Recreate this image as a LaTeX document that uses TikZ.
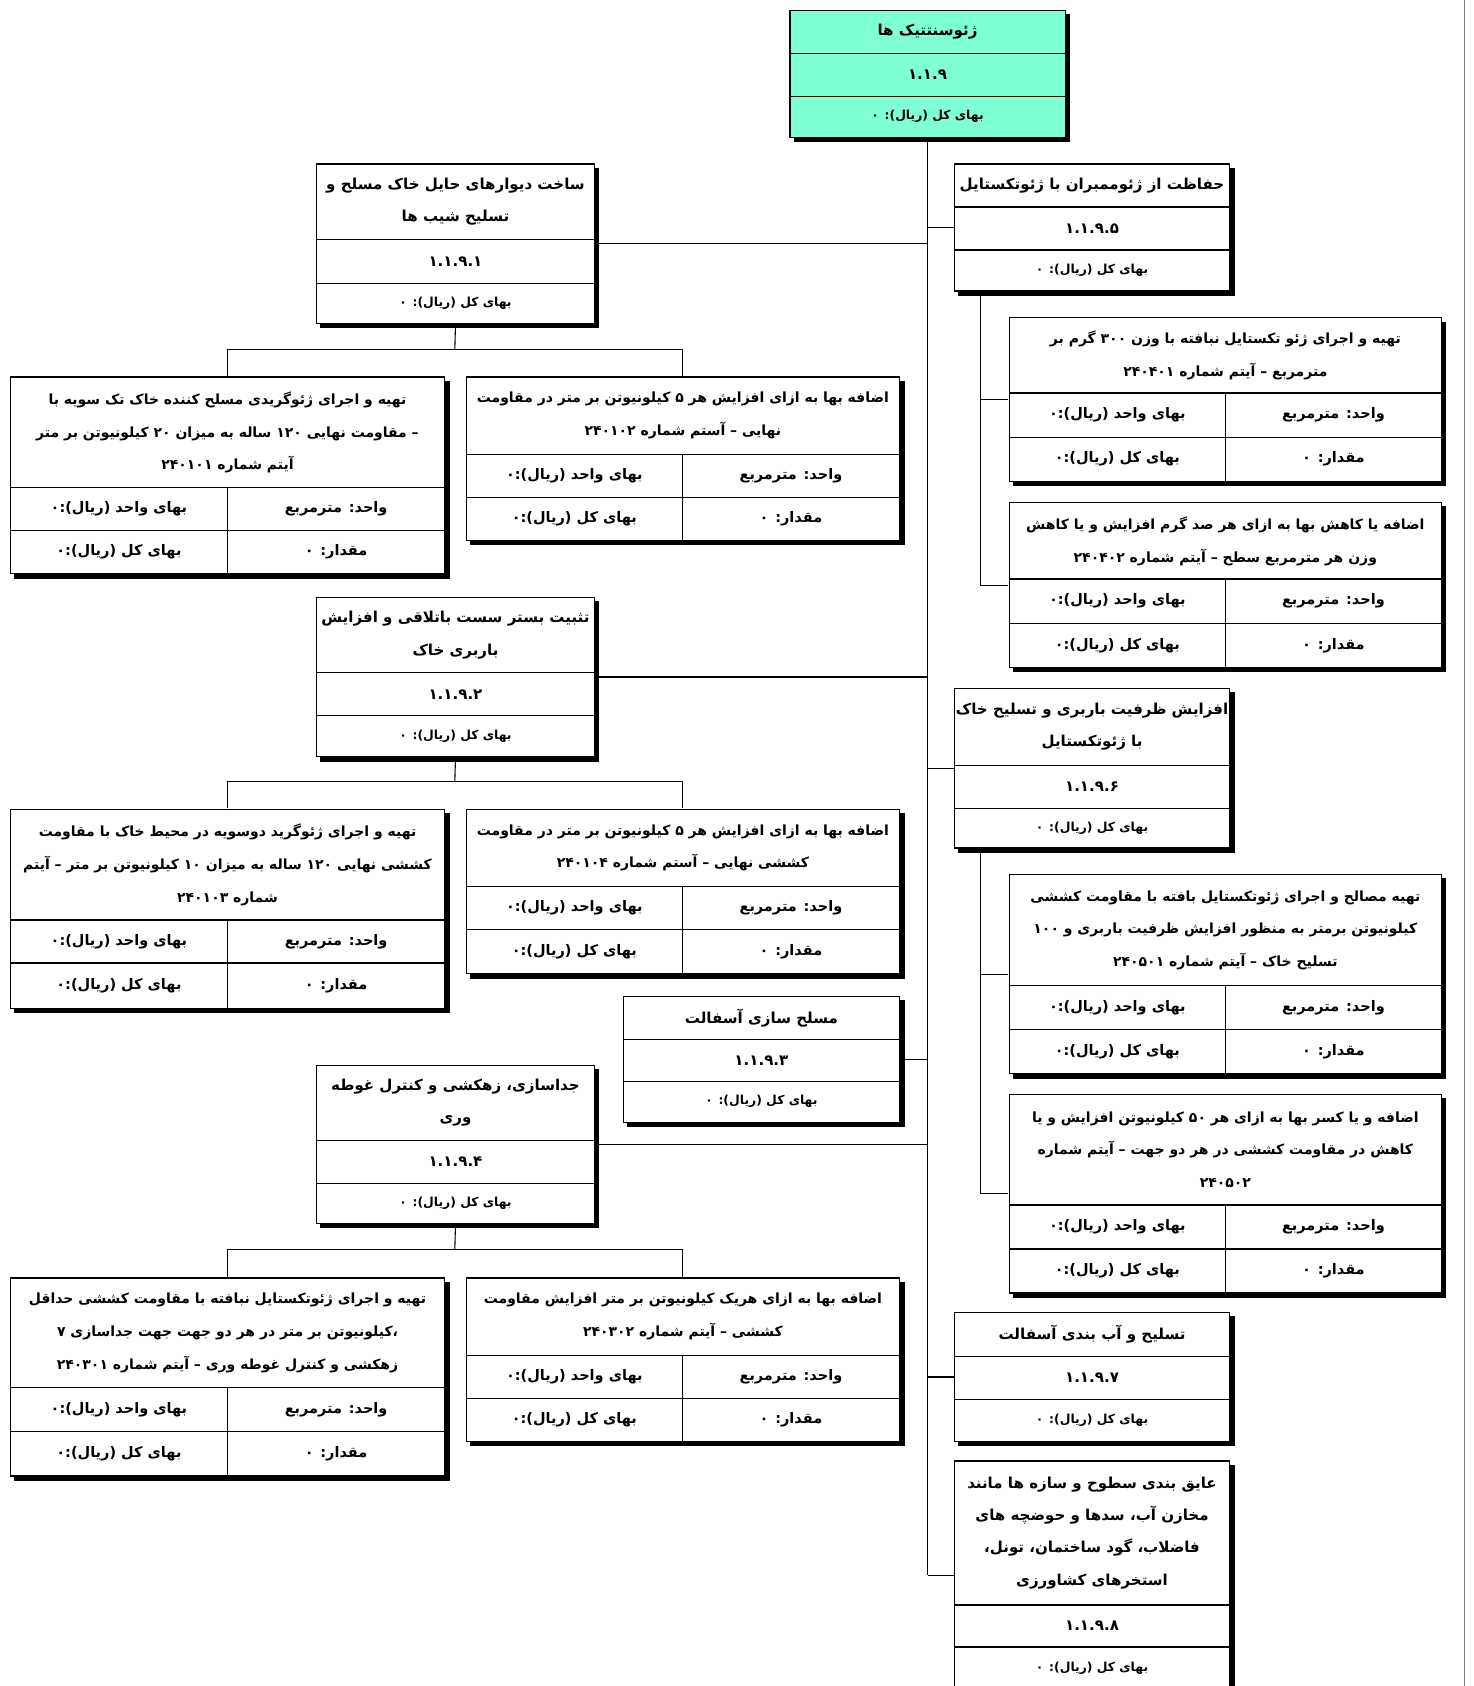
\documentclass[tikz,border=0pt]{standalone}
\usepackage{fontspec}
\usetikzlibrary{fit,backgrounds,shadows}
\newfontfamily\farsi[Script=Arabic]{DejaVu Sans}
\TeXXeTstate=1
\newcommand{\fa}[1]{\beginR #1\endR}
\definecolor{rootfill}{HTML}{7FFFD4}

\begin{document}
\begin{tikzpicture}[x=1pt, y=-1pt, line width=1.2pt,
    cell/.style={draw, fill=white, anchor=north west, inner sep=0pt, align=center,
      font=\farsi\bfseries\fontsize{14}{30}\selectfont},
    itemtitle/.style={cell, font=\farsi\bfseries\fontsize{13}{30.5}\selectfont},
    itemcell/.style={cell, font=\farsi\bfseries\fontsize{13.5}{16}\selectfont},
    smallcell/.style={cell, font=\farsi\bfseries\fontsize{11.5}{14}\selectfont},
    boxshadow/.style={inner sep=0pt, drop shadow={shadow xshift=4pt, shadow yshift=-4pt, opacity=1, fill=black}},
    link/.style={line width=1pt}]
	\useasboundingbox (0,0) rectangle (1370,1568);

	% خط کنار صفحه
	\draw[gray, line width=1.5pt] (1362,0) -- (1362,1568);

	% ریشه
	\node[cell, fill=rootfill, minimum width=256pt, minimum height=40pt] (g0t) at (734,9) {\fa{ژئوسنتتیک ها}};
	\node[cell, fill=rootfill, minimum width=256pt, minimum height=40pt] (g0c) at (734,49) {۱.۱.۹};
	\node[smallcell, fill=rootfill, minimum width=256pt, minimum height=38pt] (g0k) at (734,89) {\fa{بهای کل (ریال): ۰}};
	\begin{scope}[on background layer]
		\node[boxshadow, fit=(g0t)(g0k)] (g0) {};
	\end{scope}

	% ۱.۱.۹.۱
	\node[cell, minimum width=258pt, minimum height=70pt] (g1t) at (294,152) {\fa{ساخت دیوارهای حایل خاک مسلح و}\\\fa{تسلیح شیب ها}};
	\node[cell, minimum width=258pt, minimum height=41pt] (g1c) at (294,222) {۱.۱.۹.۱};
	\node[smallcell, minimum width=258pt, minimum height=37pt] (g1k) at (294,263) {\fa{بهای کل (ریال): ۰}};
	\begin{scope}[on background layer]
		\node[boxshadow, fit=(g1t)(g1k)] (g1) {};
	\end{scope}

	\node[itemtitle, minimum width=404pt, minimum height=103pt] (g11t) at (9,350) {\fa{تهیه و اجرای ژئوگریدی مسلح کننده خاک تک سویه با}\\\fa{– مقاومت نهایی ۱۲۰ ساله به میزان ۲۰ کیلونیوتن بر متر}\\\fa{آیتم شماره ۲۴۰۱۰۱}};
	\node[itemcell, minimum width=202pt, minimum height=40pt] (g11a) at (211,453) {\fa{واحد: مترمربع}};
	\node[itemcell, minimum width=202pt, minimum height=40pt] (g11b) at (9,453) {\fa{بهای واحد (ریال):۰}};
	\node[itemcell, minimum width=202pt, minimum height=40pt] (g11c) at (211,493) {\fa{مقدار: ۰}};
	\node[itemcell, minimum width=202pt, minimum height=40pt] (g11d) at (9,493) {\fa{بهای کل (ریال):۰}};
	\begin{scope}[on background layer]
		\node[boxshadow, fit=(g11t)(g11c)(g11d)] (g11) {};
	\end{scope}

	\node[itemtitle, minimum width=403pt, minimum height=72pt] (g12t) at (433,350) {\fa{اضافه بها به ازای افزایش هر ۵ کیلونیوتن بر متر در مقاومت}\\\fa{نهایی – آستم شماره ۲۴۰۱۰۲}};
	\node[itemcell, minimum width=202pt, minimum height=40pt] (g12a) at (634,422) {\fa{واحد: مترمربع}};
	\node[itemcell, minimum width=201pt, minimum height=40pt] (g12b) at (433,422) {\fa{بهای واحد (ریال):۰}};
	\node[itemcell, minimum width=202pt, minimum height=40pt] (g12c) at (634,462) {\fa{مقدار: ۰}};
	\node[itemcell, minimum width=201pt, minimum height=40pt] (g12d) at (433,462) {\fa{بهای کل (ریال):۰}};
	\begin{scope}[on background layer]
		\node[boxshadow, fit=(g12t)(g12c)(g12d)] (g12) {};
	\end{scope}

	% ۱.۱.۹.۲
	\node[cell, minimum width=258pt, minimum height=70pt] (g2t) at (294,555) {\fa{تثبیت بستر سست باتلاقی و افزایش}\\\fa{باربری خاک}};
	\node[cell, minimum width=258pt, minimum height=40pt] (g2c) at (294,625) {۱.۱.۹.۲};
	\node[smallcell, minimum width=258pt, minimum height=38pt] (g2k) at (294,665) {\fa{بهای کل (ریال): ۰}};
	\begin{scope}[on background layer]
		\node[boxshadow, fit=(g2t)(g2k)] (g2) {};
	\end{scope}

	\node[itemtitle, minimum width=404pt, minimum height=103pt] (g21t) at (9,752) {\fa{تهیه و اجرای ژئوگرید دوسویه در محیط خاک با مقاومت}\\\fa{کششی نهایی ۱۲۰ ساله به میزان ۱۰ کیلونیوتن بر متر – آیتم}\\\fa{شماره ۲۴۰۱۰۳}};
	\node[itemcell, minimum width=202pt, minimum height=40pt] (g21a) at (211,855) {\fa{واحد: مترمربع}};
	\node[itemcell, minimum width=202pt, minimum height=40pt] (g21b) at (9,855) {\fa{بهای واحد (ریال):۰}};
	\node[itemcell, minimum width=202pt, minimum height=42pt] (g21c) at (211,895) {\fa{مقدار: ۰}};
	\node[itemcell, minimum width=202pt, minimum height=42pt] (g21d) at (9,895) {\fa{بهای کل (ریال):۰}};
	\begin{scope}[on background layer]
		\node[boxshadow, fit=(g21t)(g21c)(g21d)] (g21) {};
	\end{scope}

	\node[itemtitle, minimum width=403pt, minimum height=72pt] (g22t) at (433,752) {\fa{اضافه بها به ازای افزایش هر ۵ کیلونیوتن بر متر در مقاومت}\\\fa{کششی نهایی – آستم شماره ۲۴۰۱۰۴}};
	\node[itemcell, minimum width=202pt, minimum height=40pt] (g22a) at (634,824) {\fa{واحد: مترمربع}};
	\node[itemcell, minimum width=201pt, minimum height=40pt] (g22b) at (433,824) {\fa{بهای واحد (ریال):۰}};
	\node[itemcell, minimum width=202pt, minimum height=41pt] (g22c) at (634,864) {\fa{مقدار: ۰}};
	\node[itemcell, minimum width=201pt, minimum height=41pt] (g22d) at (433,864) {\fa{بهای کل (ریال):۰}};
	\begin{scope}[on background layer]
		\node[boxshadow, fit=(g22t)(g22c)(g22d)] (g22) {};
	\end{scope}

	% ۱.۱.۹.۳
	\node[cell, minimum width=257pt, minimum height=40pt] (g3t) at (579,926) {\fa{مسلح سازی آسفالت}};
	\node[cell, minimum width=257pt, minimum height=39pt] (g3c) at (579,966) {۱.۱.۹.۳};
	\node[smallcell, minimum width=257pt, minimum height=38pt] (g3k) at (579,1005) {\fa{بهای کل (ریال): ۰}};
	\begin{scope}[on background layer]
		\node[boxshadow, fit=(g3t)(g3k)] (g3) {};
	\end{scope}

	% ۱.۱.۹.۴
	\node[cell, minimum width=258pt, minimum height=70pt] (g4t) at (294,990) {\fa{جداسازی، زهکشی و کنترل غوطه}\\\fa{وری}};
	\node[cell, minimum width=258pt, minimum height=40pt] (g4c) at (294,1060) {۱.۱.۹.۴};
	\node[smallcell, minimum width=258pt, minimum height=37pt] (g4k) at (294,1100) {\fa{بهای کل (ریال): ۰}};
	\begin{scope}[on background layer]
		\node[boxshadow, fit=(g4t)(g4k)] (g4) {};
	\end{scope}

	\node[itemtitle, minimum width=404pt, minimum height=102pt] (g41t) at (9,1188) {\fa{تهیه و اجرای  ژئوتکستایل نبافته با مقاومت کششی حداقل}\\\fa{،کیلونیوتن بر متر در هر دو جهت جهت جداسازی ۷}\\\fa{زهکشی و کنترل غوطه وری – آیتم شماره ۲۴۰۳۰۱}};
	\node[itemcell, minimum width=202pt, minimum height=41pt] (g41a) at (211,1290) {\fa{واحد: مترمربع}};
	\node[itemcell, minimum width=202pt, minimum height=41pt] (g41b) at (9,1290) {\fa{بهای واحد (ریال):۰}};
	\node[itemcell, minimum width=202pt, minimum height=41pt] (g41c) at (211,1331) {\fa{مقدار: ۰}};
	\node[itemcell, minimum width=202pt, minimum height=41pt] (g41d) at (9,1331) {\fa{بهای کل (ریال):۰}};
	\begin{scope}[on background layer]
		\node[boxshadow, fit=(g41t)(g41c)(g41d)] (g41) {};
	\end{scope}

	\node[itemtitle, minimum width=403pt, minimum height=72pt] (g42t) at (433,1188) {\fa{اضافه بها به ازای هریک کیلونیوتن بر متر افزایش مقاومت}\\\fa{کششی – آیتم شماره ۲۴۰۳۰۲}};
	\node[itemcell, minimum width=202pt, minimum height=40pt] (g42a) at (634,1260) {\fa{واحد: مترمربع}};
	\node[itemcell, minimum width=201pt, minimum height=40pt] (g42b) at (433,1260) {\fa{بهای واحد (ریال):۰}};
	\node[itemcell, minimum width=202pt, minimum height=40pt] (g42c) at (634,1300) {\fa{مقدار: ۰}};
	\node[itemcell, minimum width=201pt, minimum height=40pt] (g42d) at (433,1300) {\fa{بهای کل (ریال):۰}};
	\begin{scope}[on background layer]
		\node[boxshadow, fit=(g42t)(g42c)(g42d)] (g42) {};
	\end{scope}

	% ۱.۱.۹.۵
	\node[cell, minimum width=256pt, minimum height=40pt] (g5t) at (887,152) {\fa{حفاظت از ژئوممبران با ژئوتکستایل}};
	\node[cell, minimum width=256pt, minimum height=40pt] (g5c) at (887,192) {۱.۱.۹.۵};
	\node[smallcell, minimum width=256pt, minimum height=38pt] (g5k) at (887,232) {\fa{بهای کل (ریال): ۰}};
	\begin{scope}[on background layer]
		\node[boxshadow, fit=(g5t)(g5k)] (g5) {};
	\end{scope}

	\node[itemtitle, minimum width=402pt, minimum height=70pt] (g51t) at (938,295) {\fa{تهیه و اجرای ژئو تکستایل نبافته با وزن ۳۰۰ گرم بر}\\\fa{مترمربع – آیتم شماره ۲۴۰۴۰۱}};
	\node[itemcell, minimum width=201pt, minimum height=41pt] (g51a) at (1139,365) {\fa{واحد: مترمربع}};
	\node[itemcell, minimum width=201pt, minimum height=41pt] (g51b) at (938,365) {\fa{بهای واحد (ریال):۰}};
	\node[itemcell, minimum width=201pt, minimum height=41pt] (g51c) at (1139,406) {\fa{مقدار: ۰}};
	\node[itemcell, minimum width=201pt, minimum height=41pt] (g51d) at (938,406) {\fa{بهای کل (ریال):۰}};
	\begin{scope}[on background layer]
		\node[boxshadow, fit=(g51t)(g51c)(g51d)] (g51) {};
	\end{scope}

	\node[itemtitle, minimum width=402pt, minimum height=71pt] (g52t) at (938,467) {\fa{اضافه یا کاهش بها به ازای هر صد گرم افزایش و یا کاهش}\\\fa{وزن هر مترمربع سطح – آیتم شماره ۲۴۰۴۰۲}};
	\node[itemcell, minimum width=201pt, minimum height=41pt] (g52a) at (1139,538) {\fa{واحد: مترمربع}};
	\node[itemcell, minimum width=201pt, minimum height=41pt] (g52b) at (938,538) {\fa{بهای واحد (ریال):۰}};
	\node[itemcell, minimum width=201pt, minimum height=41pt] (g52c) at (1139,579) {\fa{مقدار: ۰}};
	\node[itemcell, minimum width=201pt, minimum height=41pt] (g52d) at (938,579) {\fa{بهای کل (ریال):۰}};
	\begin{scope}[on background layer]
		\node[boxshadow, fit=(g52t)(g52c)(g52d)] (g52) {};
	\end{scope}

	% ۱.۱.۹.۶
	\node[cell, minimum width=256pt, minimum height=71pt] (g6t) at (887,640) {\fa{افزایش ظرفیت باربری و تسلیح خاک}\\\fa{با ژئوتکستایل}};
	\node[cell, minimum width=256pt, minimum height=40pt] (g6c) at (887,711) {۱.۱.۹.۶};
	\node[smallcell, minimum width=256pt, minimum height=37pt] (g6k) at (887,751) {\fa{بهای کل (ریال): ۰}};
	\begin{scope}[on background layer]
		\node[boxshadow, fit=(g6t)(g6k)] (g6) {};
	\end{scope}

	\node[itemtitle, minimum width=402pt, minimum height=103pt] (g61t) at (938,813) {\fa{تهیه مصالح و اجرای ژئوتکستایل بافته با مقاومت کششی}\\\fa{کیلونیوتن برمتر به منظور افزایش ظرفیت باربری و ۱۰۰}\\\fa{تسلیح خاک – آیتم شماره ۲۴۰۵۰۱}};
	\node[itemcell, minimum width=201pt, minimum height=41pt] (g61a) at (1139,916) {\fa{واحد: مترمربع}};
	\node[itemcell, minimum width=201pt, minimum height=41pt] (g61b) at (938,916) {\fa{بهای واحد (ریال):۰}};
	\node[itemcell, minimum width=201pt, minimum height=41pt] (g61c) at (1139,957) {\fa{مقدار: ۰}};
	\node[itemcell, minimum width=201pt, minimum height=41pt] (g61d) at (938,957) {\fa{بهای کل (ریال):۰}};
	\begin{scope}[on background layer]
		\node[boxshadow, fit=(g61t)(g61c)(g61d)] (g61) {};
	\end{scope}

	\node[itemtitle, minimum width=402pt, minimum height=103pt] (g62t) at (938,1017) {\fa{اضافه و یا کسر بها به ازای هر ۵۰ کیلونیوتن افزایش و یا}\\\fa{کاهش در مقاومت کششی در هر دو جهت – آیتم شماره}\\\fa{۲۴۰۵۰۲}};
	\node[itemcell, minimum width=201pt, minimum height=41pt] (g62a) at (1139,1120) {\fa{واحد: مترمربع}};
	\node[itemcell, minimum width=201pt, minimum height=41pt] (g62b) at (938,1120) {\fa{بهای واحد (ریال):۰}};
	\node[itemcell, minimum width=201pt, minimum height=41pt] (g62c) at (1139,1161) {\fa{مقدار: ۰}};
	\node[itemcell, minimum width=201pt, minimum height=41pt] (g62d) at (938,1161) {\fa{بهای کل (ریال):۰}};
	\begin{scope}[on background layer]
		\node[boxshadow, fit=(g62t)(g62c)(g62d)] (g62) {};
	\end{scope}

	% ۱.۱.۹.۷
	\node[cell, minimum width=256pt, minimum height=41pt] (g7t) at (887,1220) {\fa{تسلیح و آب بندی آسفالت}};
	\node[cell, minimum width=256pt, minimum height=40pt] (g7c) at (887,1261) {۱.۱.۹.۷};
	\node[smallcell, minimum width=256pt, minimum height=39pt] (g7k) at (887,1301) {\fa{بهای کل (ریال): ۰}};
	\begin{scope}[on background layer]
		\node[boxshadow, fit=(g7t)(g7k)] (g7) {};
	\end{scope}

	% ۱.۱.۹.۸
	\node[cell, minimum width=256pt, minimum height=134pt] (g8t) at (887,1358) {\fa{عایق بندی سطوح و سازه ها مانند}\\\fa{مخازن آب، سدها و حوضچه های}\\\fa{فاضلاب، گود ساختمان، تونل،}\\\fa{استخرهای کشاورزی}};
	\node[cell, minimum width=256pt, minimum height=39pt] (g8c) at (887,1492) {۱.۱.۹.۸};
	\node[smallcell, minimum width=256pt, minimum height=40pt] (g8k) at (887,1531) {\fa{بهای کل (ریال): ۰}};
	\begin{scope}[on background layer]
		\node[boxshadow, fit=(g8t)(g8k)] (g8) {};
	\end{scope}

	% تنه اصلی
	\draw[link] (g0.south) -- (g0.south |- g8.west);
	\foreach \b in {g1,g2,g3,g4}
		\draw[link] (\b.east) -- (\b.east -| g0.south);
	\foreach \b in {g5,g6,g7,g8}
		\draw[link] (\b.west) -- (\b.west -| g0.south);

	% شاخه های چپ
	\coordinate (bar1) at (423,325);
	\coordinate (bar2) at (423,727);
	\coordinate (bar4) at (423,1162);
	\draw[link] (g1.south) -- (bar1);
	\draw[link] (g11.north) |- (bar1) -| (g12.north);
	\draw[link] (g2.south) -- (bar2);
	\draw[link] (g21.north) |- (bar2) -| (g22.north);
	\draw[link] (g4.south) -- (bar4);
	\draw[link] (g41.north) |- (bar4) -| (g42.north);

	% شاخه های راست
	\coordinate (rail5) at ([xshift=25pt]g5.south west);
	\coordinate (rail6) at ([xshift=25pt]g6.south west);
	\draw[link] (rail5) |- (g51.west);
	\draw[link] (rail5) |- (g52.west);
	\draw[link] (rail6) |- (g61.west);
	\draw[link] (rail6) |- (g62.west);
\end{tikzpicture}
\end{document}
